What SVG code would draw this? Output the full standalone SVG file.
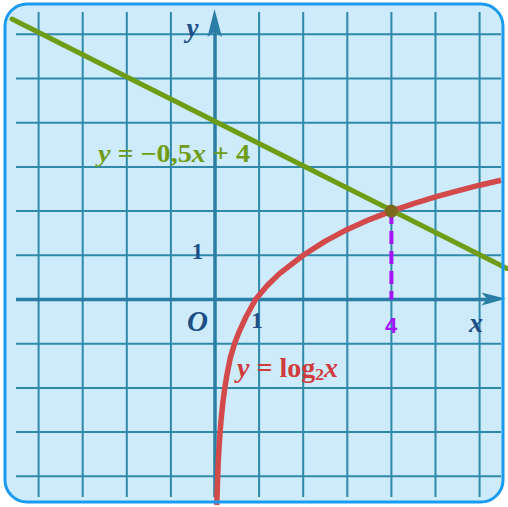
<svg xmlns="http://www.w3.org/2000/svg" width="508" height="507" viewBox="0 0 508 507">
<style>
.grid line{stroke:#3088ab;stroke-width:2}
.axis{stroke:#2a7ea5;stroke-width:3.5}
.lbl{font-family:"Liberation Serif","Times New Roman",serif;font-weight:bold;fill:#1d4f86}
.it{font-style:italic}
</style>
<rect id="panel" x="5" y="4" width="498" height="498" rx="22" ry="22" fill="#cdebfb"/>
<g id="grid" class="grid">
<line x1="38.6" y1="12" x2="38.6" y2="497"/>
<line x1="82.7" y1="12" x2="82.7" y2="497"/>
<line x1="126.8" y1="12" x2="126.8" y2="497"/>
<line x1="170.9" y1="12" x2="170.9" y2="497"/>
<line x1="259.1" y1="12" x2="259.1" y2="497"/>
<line x1="303.2" y1="12" x2="303.2" y2="497"/>
<line x1="347.3" y1="12" x2="347.3" y2="497"/>
<line x1="391.4" y1="12" x2="391.4" y2="497"/>
<line x1="435.5" y1="12" x2="435.5" y2="497"/>
<line x1="479.6" y1="12" x2="479.6" y2="497"/>
<line x1="16" y1="34.3" x2="501" y2="34.3"/>
<line x1="16" y1="78.5" x2="501" y2="78.5"/>
<line x1="16" y1="122.7" x2="501" y2="122.7"/>
<line x1="16" y1="166.9" x2="501" y2="166.9"/>
<line x1="16" y1="211.1" x2="501" y2="211.1"/>
<line x1="16" y1="255.3" x2="501" y2="255.3"/>
<line x1="16" y1="343.7" x2="501" y2="343.7"/>
<line x1="16" y1="387.9" x2="501" y2="387.9"/>
<line x1="16" y1="432.1" x2="501" y2="432.1"/>
<line x1="16" y1="476.3" x2="501" y2="476.3"/>
</g>
<g id="axes">
<line class="axis" x1="215" y1="30" x2="215" y2="497"/>
<line class="axis" x1="16" y1="299.5" x2="488" y2="299.5"/>
<path d="M214.5 9 L222 37 L214.5 31.5 L207.5 37 Z" fill="#2a7ea5"/>
<path d="M506 298.8 L481.5 292.5 L487 298.8 L481.5 305.5 Z" fill="#2a7ea5"/>
</g>
<g id="connectors">
<line id="line-green" x1="12" y1="19" x2="507" y2="268.5" stroke="#6e9c14" stroke-width="5" stroke-linecap="round"/>
<polyline id="curve-log" fill="none" stroke="#d24a4a" stroke-width="5.5" stroke-linejoin="round" stroke-linecap="butt" points="216.6,505 217.0,497.3 217.6,478.9 218.3,460.6 219.1,446.3 220.1,432.1 221.0,420.5 222.9,402.1 224.8,387.9 226.7,376.3 230.3,357.9 234.5,343.7 239,332.1 245.5,317.8 255.5,299.5 267.5,285.3 279.5,273.6 303.2,255.3 325.3,241.1 347.3,229.4 369.4,219.6 391.4,211.1 413.5,203.6 435.5,196.9 457.6,190.8 479.6,185.2 501,180.3"/>
<line id="dash-4" x1="391.4" y1="211" x2="391.4" y2="299.5" stroke="#a514f5" stroke-width="4" stroke-dasharray="13 7"/>
<circle id="intersection" cx="391.4" cy="211.1" r="6.5" fill="#7c6a1c"/>
</g>
<g id="labels">
<text class="lbl it" x="192.5" y="37" font-size="27" text-anchor="middle">y</text>
<text class="lbl it" x="476" y="332" font-size="28" text-anchor="middle">x</text>
<text class="lbl it" x="197.5" y="331" font-size="29" text-anchor="middle">O</text>
<text class="lbl" x="197.5" y="259" font-size="23" text-anchor="middle">1</text>
<text class="lbl" x="257" y="327.5" font-size="23" text-anchor="middle">1</text>
<text x="391" y="333" font-size="22" text-anchor="middle" font-family="Liberation Sans, Arial, sans-serif" font-weight="bold" fill="#a514f5">4</text>
<text x="98" y="162" font-size="25" font-family="Liberation Serif, Times New Roman, serif" font-weight="bold" fill="#6e9c14" textLength="152" lengthAdjust="spacingAndGlyphs"><tspan font-style="italic">y</tspan> = −0,5<tspan font-style="italic">x</tspan> + 4</text>
<text x="237" y="377" font-size="27" font-family="Liberation Serif, Times New Roman, serif" font-weight="bold" fill="#d03c3c" textLength="101" lengthAdjust="spacingAndGlyphs"><tspan font-style="italic">y</tspan> = log<tspan font-size="17" dy="3">2</tspan><tspan font-style="italic" dy="-3">x</tspan></text>
</g>
<rect id="border" x="5" y="4" width="498" height="498" rx="22" ry="22" fill="none" stroke="#1a9bf2" stroke-width="3"/>
</svg>
